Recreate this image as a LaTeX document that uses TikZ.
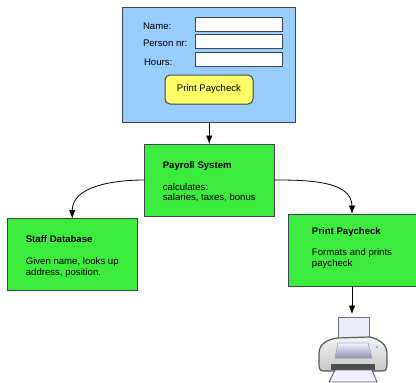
\documentclass[tikz,border=0pt]{standalone}
\usepackage{fontspec}
\setmainfont{Liberation Sans}
\usetikzlibrary{positioning,arrows.meta}
\definecolor{formblue}{HTML}{99CCFF}
\definecolor{buttonyellow}{HTML}{FFFF66}
\definecolor{boxgreen}{HTML}{3CEC3C}
\definecolor{edgegrey}{HTML}{3C4650}
\newcommand{\boxhead}[1]{\rule{0pt}{11pt}\textbf{#1}\\[11pt]}
\tikzset{
	every node/.style={font=\fontsize{9.6}{10.6}\selectfont,outer sep=0pt},
	formbox/.style={draw=edgegrey,line width=1pt,fill=formblue,minimum width=173pt,minimum height=115pt,inner sep=0pt},
	fieldbox/.style={draw=edgegrey,line width=1pt,fill=white,minimum width=87pt,minimum height=14.5pt,inner sep=0pt},
	fieldlabel/.style={inner sep=0pt,anchor=west},
	buttonbox/.style={draw=edgegrey,line width=1pt,fill=buttonyellow,rounded corners=5pt,minimum width=88pt,minimum height=29pt,inner sep=0pt},
	systembox/.style={draw=edgegrey,line width=1pt,fill=boxgreen,minimum width=129.5pt,minimum height=72pt,inner sep=0pt,align=left},
	link/.style={draw=black,line width=0.8pt,-{Latex[length=8.5pt,width=6.5pt]}}
}
\begin{document}
\begin{tikzpicture}[x=1pt,y=1pt]
		\useasboundingbox (0,0) rectangle (416,-383);
		\begin{scope}
			\node(form) [formbox,anchor=north west] at (122,-7) {};
			\node(name) [fieldbox,below right=10pt and 73pt of form.north west,anchor=north west] {};
			\node(person) [fieldbox,below=2.5pt of name] {};
			\node(hours) [fieldbox,below=3.5pt of person,xshift=0.5pt] {};
			\node(namelabel) [fieldlabel,left=52pt of name.west,anchor=west,yshift=-2pt] {Name:};
			\node(personlabel) [fieldlabel,left=52pt of person.west,anchor=west,yshift=-2pt] {Person nr:};
			\node(hourslabel) [fieldlabel,left=51.5pt of hours.west,anchor=west,yshift=-3pt] {Hours:};
			\node(button) [buttonbox,below right=68pt and 43pt of form.north west,anchor=north west] {Print Paycheck};
			\node(payroll) [systembox,below=22pt of form.south,xshift=0.75pt,anchor=north] {\boxhead{Payroll System}calculates:\\salaries, taxes, bonus};
			\node(staff) [systembox,anchor=north west] at (7.5,-218.5) {\boxhead{Staff Database}Given name, looks up\\address, position.};
			\node(print) [systembox,minimum width=128pt,anchor=north west] at (288,-214) {\boxhead{Print Paycheck}Formats and prints\\paycheck\\\mbox{}};
			\coordinate(printer) at (352,-314);
			\path[link] (form.south -| payroll.north) -- (payroll.north);
			\path[link] (payroll.west) to[out=180,in=90] (staff.north);
			\path[link] (payroll.east) to[out=0,in=90] (print.north);
			\path[link] (print.south) -- (printer);
		\end{scope}
		% printer
		\begin{scope}[draw=gray!90!black,line width=0.9pt,line join=round]
			\filldraw[fill=white!92!blue] (338,-317) rectangle (369,-345);
			\draw[top color=white!90!gray,bottom color=gray!45!white,draw=gray!70!black,line width=1.2pt]
				(337,-338) .. controls (325,-340) and (319,-345) .. (319,-354) -- (319,-364)
				.. controls (319,-369) and (320,-371) .. (324,-371) -- (382,-371)
				.. controls (386,-371) and (387,-369) .. (387,-364) -- (387,-354)
				.. controls (387,-345) and (381,-340) .. (370,-337) -- cycle;
			\filldraw[top color=white!95!blue,bottom color=blue!25!gray!70!white,draw=gray!60!white,line width=0.6pt]
				(338,-343) -- (368,-343) -- (372,-358) -- (335,-358) -- cycle;
			\fill[black!70] (331,-364) rectangle (375,-370);
			\filldraw[fill=white!94!blue,draw=gray!80!black] (335,-370) -- (372,-370) -- (377,-382) -- (329,-382) -- cycle;
			\fill[teal!70] (377,-347) circle (1pt);
		\end{scope}
	\end{tikzpicture}
\end{document}
